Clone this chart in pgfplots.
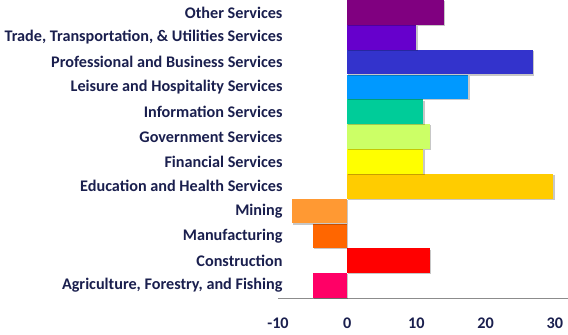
\documentclass[border=0pt]{standalone}
\usepackage{pgfplots}
\pgfplotsset{compat=1.18}
\usepackage{fontspec}
\setmainfont{Carlito}
\definecolor{lbl}{HTML}{1A1F4E}
\definecolor{cOther}{HTML}{800080}
\definecolor{cTrade}{HTML}{6600CC}
\definecolor{cProf}{HTML}{3333CC}
\definecolor{cLeis}{HTML}{0099FF}
\definecolor{cInfo}{HTML}{00CC99}
\definecolor{cGov}{HTML}{CCFF66}
\definecolor{cFin}{HTML}{FFFF00}
\definecolor{cEdu}{HTML}{FFCC00}
\definecolor{cMin}{HTML}{FF9933}
\definecolor{cMan}{HTML}{FF6600}
\definecolor{cCon}{HTML}{FF0000}
\definecolor{cAgr}{HTML}{FF0066}
\tikzset{barshadow/.style={preaction={fill=black, fill opacity=0.22, transform canvas={xshift=1.2bp, yshift=-1.2bp}}}}
\begin{document}
\begin{tikzpicture}
\path[use as bounding box] (-278bp,-37bp) rectangle (290bp,298bp);
\begin{axis}[
  at={(0,0)}, anchor=south west,
  scale only axis,
  width=290bp, height=298bp,
  xmin=-10, xmax=31.9,
  ymin=-0.5, ymax=11.5,
  xbar, bar width=24.6bp, bar shift=0pt,
  axis x line*=bottom,
  axis y line*=left,
  y axis line style={draw=none},
  x axis line style={draw=black!45, -},
  xtick={-10,0,10,20,30},
  major tick length=0pt,
  ytick={0,...,11},
  yticklabels={{Agriculture, Forestry, and Fishing},Construction,Manufacturing,Mining,{Education and Health Services},{Financial Services},{Government Services},{Information Services},{Leisure and Hospitality Services},{Professional and Business Services},{Trade, Transportation, \& Utilities Services},{Other Services}},
  tick label style={font=\fontsize{16.2bp}{18bp}\selectfont\bfseries, text=lbl},
  /pgf/number format/assume math mode=true,
  xticklabel style={yshift=-16bp},
  yticklabel style={anchor=east, xshift=8bp},
  clip=false,
]
\addplot[fill=cAgr, draw=none, barshadow] coordinates {(-5,0)};
\addplot[fill=cCon, draw=none, barshadow] coordinates {(12,1)};
\addplot[fill=cMan, draw=none, barshadow] coordinates {(-5,2)};
\addplot[fill=cMin, draw=none, barshadow] coordinates {(-8,3)};
\addplot[fill=cEdu, draw=none, barshadow] coordinates {(29.8,4)};
\addplot[fill=cFin, draw=none, barshadow] coordinates {(11,5)};
\addplot[fill=cGov, draw=none, barshadow] coordinates {(12,6)};
\addplot[fill=cInfo, draw=none, barshadow] coordinates {(11,7)};
\addplot[fill=cLeis, draw=none, barshadow] coordinates {(17.5,8)};
\addplot[fill=cProf, draw=none, barshadow] coordinates {(26.8,9)};
\addplot[fill=cTrade, draw=none, barshadow] coordinates {(10,10)};
\addplot[fill=cOther, draw=none, barshadow] coordinates {(14,11)};
\end{axis}
\end{tikzpicture}
\end{document}
